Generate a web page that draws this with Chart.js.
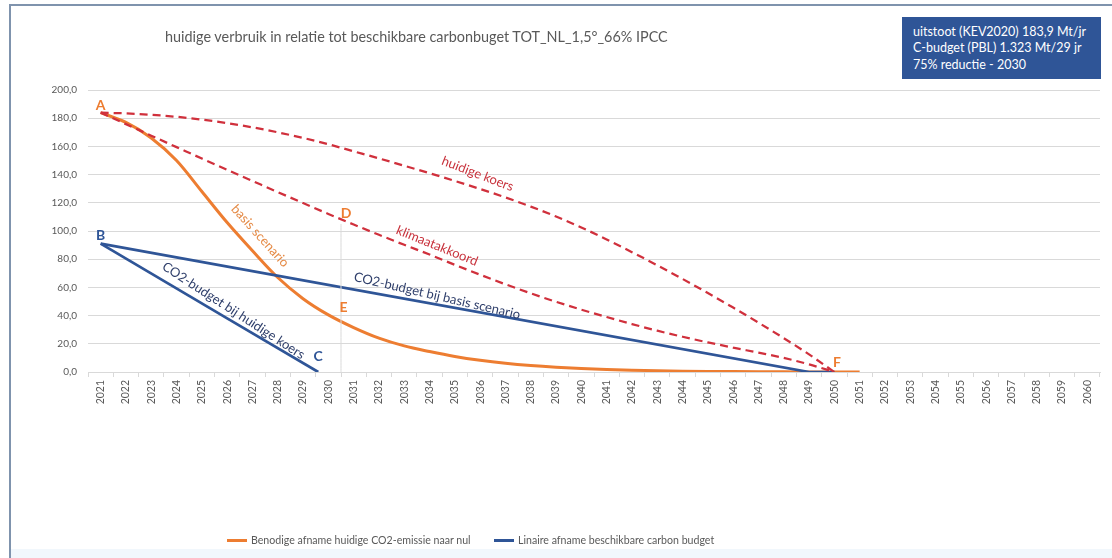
<!DOCTYPE html>
<html lang="nl">
<head>
<meta charset="utf-8">
<title>Carbonbudget NL</title>
<script src="https://cdn.jsdelivr.net/npm/chart.js@4.4.1/dist/chart.umd.min.js"></script>
<style>
  html, body { margin: 0; padding: 0; background: #ffffff; }
  body { width: 1112px; height: 558px; position: relative; overflow: hidden; font-family: Lato, "Open Sans", sans-serif; }
  #frame { position: absolute; left: 9px; top: 4px; width: 1120px; height: 560px;
           border-left: 2px solid #7f93ad; border-top: 2px solid #7f93ad; box-sizing: border-box; }
  #bottomband { position: absolute; left: 11px; top: 549px; width: 1101px; height: 9px; background: #f1f7fc; }
  #chart { position: absolute; left: 0; top: 0; }
  #title { position: absolute; left: 165px; top: 28px; font-size: 14.4px; color: #595959; white-space: nowrap; }
  #infobox { position: absolute; left: 902px; top: 17px; width: 199px; height: 62px; box-sizing: border-box;
             background: #2f5597; color: #ffffff; font-size: 12.5px; line-height: 16.3px; padding: 7px 0 0 11px; white-space: nowrap; }
  #legend { position: absolute; top: 531px; left: 227px; font-size: 10.6px; color: #595959; white-space: nowrap; }
  #legend .item { position: absolute; top: 0; display: flex; align-items: center; height: 18px; }
  #legend .swatch { display: inline-block; width: 20px; height: 3px; margin-right: 4px; }
</style>
</head>
<body>
<div id="frame"></div>
<div id="bottomband"></div>
<canvas id="chart" width="1112" height="558"></canvas>
<div id="title">huidige verbruik in relatie tot beschikbare carbonbuget TOT_NL_1,5°_66% IPCC</div>
<div id="infobox">uitstoot (KEV2020) 183,9 Mt/jr<br>C-budget (PBL) 1.323 Mt/29 jr<br>75% reductie - 2030</div>
<div id="legend"></div>
<script>
// x-axis tick labels
const tickYears = [2021, 2022, 2023, 2024, 2025, 2026, 2027, 2028, 2029, 2030,
                   2031, 2032, 2033, 2034, 2035, 2036, 2037, 2038, 2039, 2040,
                   2041, 2042, 2043, 2044, 2045, 2046, 2047, 2048, 2049, 2050,
                   2051, 2052, 2053, 2054, 2055, 2056, 2057, 2058, 2059, 2060];

// Benodige afname huidige CO2-emissie naar nul (basis scenario), Mt/jr
const basisYears = [2021, 2022, 2023, 2024, 2025, 2026, 2027, 2028, 2029, 2030,
                    2031, 2032, 2033, 2034, 2035, 2036, 2037, 2038, 2039, 2040,
                    2041, 2042, 2043, 2044, 2045, 2046, 2047, 2048, 2049, 2050, 2051];
const basisValues = [183.9, 177, 166, 150, 128, 106, 86, 67, 52, 40.5,
                     31.5, 24, 18.5, 14.5, 11, 8.3, 6.2, 4.6, 3.4, 2.5,
                     1.8, 1.3, 0.9, 0.6, 0.4, 0.3, 0.2, 0.1, 0.05, 0, 0];

// Linaire afname beschikbare carbon budget
const budgetBasisYears = [2021, 2049, 2050];
const budgetBasisValues = [91, 0, 0];
const budgetKoersYears = [2021, 2029.6];
const budgetKoersValues = [91, 0];

// huidige koers (rood gestippeld)
const koersYears = [2021, 2022, 2023, 2024, 2025, 2026, 2027, 2028, 2029, 2030,
                    2031, 2032, 2033, 2034, 2035, 2036, 2037, 2038, 2039, 2040,
                    2041, 2042, 2043, 2044, 2045, 2046, 2047, 2048, 2049, 2050];
const koersValues = [183.9, 183.4, 182.4, 181, 179, 176.5, 173.5, 170, 166, 161.5,
                     156.5, 151.5, 146.3, 141, 135.5, 129.8, 123.8, 117.3, 110.3, 102.5,
                     94, 85, 75.7, 66, 56, 45.7, 35, 24, 12.5, 0];

// klimaatakkoord (rood gestippeld)
const akkoordYears = koersYears;
const akkoordValues = [183.9, 175.8, 167.6, 159.5, 151.4, 143.4, 135.5, 127.6, 119.8, 112.1,
                       104.6, 97.3, 90.2, 83.3, 76, 69, 62.2, 55.8, 49.8, 44.2,
                       39, 34, 29.3, 25, 21, 17.3, 13.7, 10, 5.4, 0];

// hulplijn bij 2030
const markerYears = [2030.5, 2030.5];
const markerValues = [0, 105];

const pts = (xs, ys) => xs.map((x, i) => ({ x: x, y: ys[i] }));

const ORANGE = '#ed7d31';
const BLUE = '#2f5597';
const RED = '#d0303c';

// letters and line captions, placed in data coordinates
const letterLabels = [
  { text: 'A', x: 2021.0, y: 189, color: ORANGE },
  { text: 'B', x: 2021.0, y: 97, color: BLUE },
  { text: 'C', x: 2029.6, y: 11, color: BLUE },
  { text: 'D', x: 2030.7, y: 112.5, color: ORANGE },
  { text: 'E', x: 2030.6, y: 45.5, color: ORANGE },
  { text: 'F', x: 2050.1, y: 6.5, color: ORANGE }
];
const lineCaptions = [
  { text: 'huidige koers', x: 2035.9, y: 140.5, angle: 21, color: '#c8323c' },
  { text: 'klimaatakkoord', x: 2034.3, y: 89.5, angle: 22, color: '#c8323c' },
  { text: 'basis scenario', x: 2027.3, y: 96.5, angle: 48, color: '#e58a45' },
  { text: 'CO2-budget bij huidige koers', x: 2026.25, y: 43.5, angle: 33, color: '#2f3f6b' },
  { text: 'CO2-budget bij basis scenario', x: 2034.3, y: 54, angle: 13, color: '#2f3f6b' }
];

const captionPlugin = {
  id: 'captions',
  afterDatasetsDraw(chart) {
    const ctx = chart.ctx;
    const xs = chart.scales.x, ys = chart.scales.y;
    ctx.save();
    ctx.textAlign = 'center';
    ctx.textBaseline = 'middle';
    letterLabels.forEach(l => {
      ctx.font = 'bold 14px Lato, "Open Sans", sans-serif';
      ctx.fillStyle = l.color;
      ctx.fillText(l.text, xs.getPixelForValue(l.x), ys.getPixelForValue(l.y));
    });
    lineCaptions.forEach(c => {
      ctx.save();
      ctx.translate(xs.getPixelForValue(c.x), ys.getPixelForValue(c.y));
      ctx.rotate(c.angle * Math.PI / 180);
      ctx.font = '13px Lato, "Open Sans", sans-serif';
      ctx.fillStyle = c.color;
      ctx.fillText(c.text, 0, 0);
      ctx.restore();
    });
    ctx.restore();
  }
};

const lineStyle = { pointRadius: 0, pointHoverRadius: 0, fill: false, cubicInterpolationMode: 'monotone' };

const chart = new Chart(document.getElementById('chart'), {
  type: 'line',
  data: {
    datasets: [
      Object.assign({ label: 'hulplijn', data: pts(markerYears, markerValues), borderColor: '#d9d9d9', borderWidth: 1, showInLegend: false }, lineStyle),
      Object.assign({ label: 'huidige koers', data: pts(koersYears, koersValues), borderColor: RED, borderWidth: 2.25, borderDash: [8, 5], showInLegend: false }, lineStyle),
      Object.assign({ label: 'klimaatakkoord', data: pts(akkoordYears, akkoordValues), borderColor: RED, borderWidth: 2.25, borderDash: [8, 5], showInLegend: false }, lineStyle),
      Object.assign({ label: 'CO2-budget bij huidige koers', data: pts(budgetKoersYears, budgetKoersValues), borderColor: BLUE, borderWidth: 2.75, showInLegend: false }, lineStyle),
      { label: 'Linaire afname beschikbare carbon budget', data: pts(budgetBasisYears, budgetBasisValues), borderColor: BLUE, borderWidth: 2.75, showInLegend: true, tension: 0, pointRadius: 0, fill: false },
      Object.assign({ label: 'Benodige afname huidige CO2-emissie naar nul', data: pts(basisYears, basisValues), borderColor: ORANGE, borderWidth: 3, showInLegend: true }, lineStyle)
    ]
  },
  options: {
    responsive: false,
    animation: false,
    devicePixelRatio: 1,
    layout: { padding: { left: 0, right: 12, top: 90, bottom: 146 } },
    plugins: {
      legend: { display: false },
      tooltip: { enabled: false },
      title: { display: false }
    },
    scales: {
      x: {
        type: 'linear',
        min: 2020.5,
        max: 2060.5,
        afterBuildTicks: (scale) => { scale.ticks = tickYears.map(v => ({ value: v })); },
        afterFit: (scale) => { scale.height = 40; },
        ticks: {
          autoSkip: false, maxRotation: 90, minRotation: 90, padding: 3,
          color: '#595959', font: { size: 10.5, family: 'Lato, "Open Sans", sans-serif' },
          callback: (v) => String(v)
        },
        grid: { offset: true, drawOnChartArea: false, drawTicks: true, tickLength: 5, color: '#d9d9d9' },
        border: { display: true, color: '#d9d9d9' }
      },
      y: {
        min: 0,
        max: 200,
        afterFit: (scale) => { scale.width = 88; },
        ticks: {
          stepSize: 20, padding: 11, color: '#595959',
          font: { size: 10, family: 'Lato, "Open Sans", sans-serif' },
          callback: (v) => v.toFixed(1).replace('.', ',')
        },
        grid: { color: '#d9d9d9', drawTicks: false },
        border: { display: false }
      }
    }
  },
  plugins: [captionPlugin]
});

// legend built from the datasets that belong in it
const legendEl = document.getElementById('legend');
const legendOffsets = [0, 267];
chart.data.datasets.filter(d => d.showInLegend).reverse().forEach((d, i) => {
  const item = document.createElement('div');
  item.className = 'item';
  item.style.left = legendOffsets[i] + 'px';
  const sw = document.createElement('span');
  sw.className = 'swatch';
  sw.style.background = d.borderColor;
  const tx = document.createElement('span');
  tx.textContent = d.label;
  item.appendChild(sw);
  item.appendChild(tx);
  legendEl.appendChild(item);
});
</script>
</body>
</html>
